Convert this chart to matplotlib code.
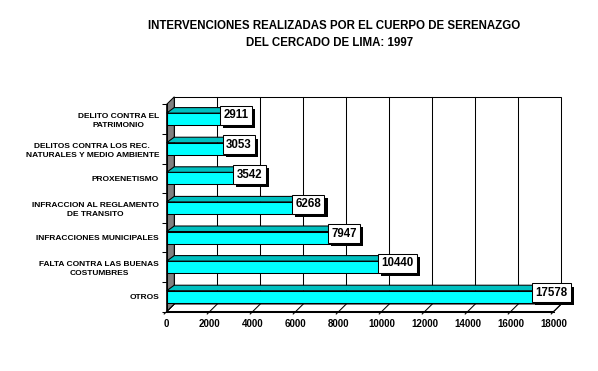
import matplotlib
matplotlib.use('Agg')
import matplotlib.pyplot as plt
import matplotlib.font_manager as fm
import matplotlib.patheffects as pe
from matplotlib.patches import Polygon, Rectangle

# data
categorias = ['DELITO CONTRA EL\nPATRIMONIO',
              'DELITOS CONTRA LOS REC.\nNATURALES Y MEDIO AMBIENTE',
              'PROXENETISMO',
              'INFRACCION AL REGLAMENTO\nDE TRANSITO',
              'INFRACCIONES MUNICIPALES',
              'FALTA CONTRA LAS BUENAS\nCOSTUMBRES',
              'OTROS']
valores = [2911, 3053, 3542, 6268, 7947, 10440, 17578]
xticks = [0, 2000, 4000, 6000, 8000, 10000, 12000, 14000, 16000, 18000]
titulo1 = 'INTERVENCIONES REALIZADAS POR EL CUERPO DE SERENAZGO'
titulo2 = 'DEL CERCADO DE LIMA: 1997'

avail = {f.name for f in fm.fontManager.ttflist}
if 'Liberation Sans Narrow' in avail:
    narrow, nsize = 'Liberation Sans Narrow', 9
else:
    narrow, nsize = 'Liberation Sans', 8.3
plain = 'Liberation Sans' if 'Liberation Sans' in avail else 'DejaVu Sans'

W, H = 598, 371
fig = plt.figure(figsize=(W / 100, H / 100), dpi=100)
# front plane of the 3d box, in pixels
x0, x1 = 166.7, 553.7
ytop, ybot = 104.3, 311.5
ax = fig.add_axes([x0 / W, (H - ybot) / H, (x1 - x0) / W, (ybot - ytop) / H])
xmax = 18000
n = len(valores)
ax.set_xlim(0, xmax)
ax.set_ylim(n - 0.5, -0.5)

pxx = xmax / (x1 - x0)          # data units per pixel, x
pxy = n / (ybot - ytop)         # data units per pixel, y
ddx, ddy = 7.6 * pxx, 7.5 * pxy  # depth of the box
bdx, bdy = 7.5 * pxx, 5.5 * pxy  # depth of bars
h = 12 * pxy                     # front face height
lw = 0.75

# back wall
ax.add_patch(Rectangle((ddx, -0.5 - ddy), xmax, n, fc='white', ec='black',
                       lw=lw, zorder=1, clip_on=False))
for t in xticks[1:-1]:
    ax.plot([t + ddx, t + ddx], [-0.5 - ddy, n - 0.5 - ddy], color='black',
            lw=lw, zorder=1.2, clip_on=False)
# floor
ax.add_patch(Polygon([(0, n - 0.5), (xmax, n - 0.5), (xmax + ddx, n - 0.5 - ddy),
                      (ddx, n - 0.5 - ddy)], closed=True, fc='white', ec='black',
                     lw=lw, zorder=1.3, clip_on=False))
for t in xticks:
    ax.plot([t + ddx, t - 2.5 * pxx], [n - 0.5 - ddy, n - 0.5 + 2.5 * pxy],
            color='black', lw=lw, zorder=1.4, clip_on=False)
# left wall
ax.add_patch(Polygon([(0, -0.5), (ddx, -0.5 - ddy), (ddx, n - 0.5 - ddy), (0, n - 0.5)],
                     closed=True, fc='#808080', ec='black', lw=lw, zorder=2,
                     clip_on=False))

# bars
pos = list(range(n))
ax.barh(pos, valores, height=h, color='#00FFFF', edgecolor='black', lw=lw, zorder=3)
for i, v in zip(pos, valores):
    top = i - h / 2
    ax.add_patch(Polygon([(0, top), (v, top), (v + bdx, top - bdy), (bdx, top - bdy)],
                         closed=True, fc='#00C0C0', ec='black', lw=lw, zorder=3,
                         clip_on=False))
    ax.add_patch(Polygon([(v, top), (v + bdx, top - bdy), (v + bdx, top + h - bdy),
                          (v, top + h)], closed=True, fc='#008080', ec='black',
                         lw=lw, zorder=3, clip_on=False))
    # value label in a box with a drop shadow
    t = ax.text(v + 310, i - 0.128, str(v), ha='center', va='center', fontsize=nsize,
                family=narrow, fontweight='bold', color='black',
                bbox=dict(boxstyle='square,pad=0.3', fc='white', ec='black', lw=lw),
                zorder=6, clip_on=False)
    t.get_bbox_patch().set_path_effects([
        pe.SimplePatchShadow(offset=(2.2, -2.2), shadow_rgbFace='black', alpha=1),
        pe.Normal()])

# axes
for s in ['top', 'right']:
    ax.spines[s].set_visible(False)
for s in ['left', 'bottom']:
    ax.spines[s].set_linewidth(lw)
    ax.spines[s].set_zorder(4)
ax.set_facecolor('none')
ax.set_yticks(pos)
ax.set_yticklabels(categorias, family=plain, fontweight='bold', fontsize=6,
                   multialignment='center', linespacing=1.45)
ax.set_yticks([k - 0.5 for k in range(n + 1)], minor=True)
ax.tick_params(axis='y', which='major', length=0, pad=5.5)
ax.tick_params(axis='y', which='minor', length=3.5, width=lw, direction='out')
ax.set_xticks(xticks)
ax.set_xticklabels([str(t) for t in xticks], family=plain, fontweight='bold',
                   fontsize=7)
ax.tick_params(axis='x', length=0, pad=5.2)

fig.text(333.8 / W, 1 - 25.7 / H, titulo1, ha='center', va='center', family=narrow,
         fontsize=nsize, fontweight='bold')
fig.text(329.3 / W, 1 - 43.3 / H, titulo2, ha='center', va='center', family=narrow,
         fontsize=nsize, fontweight='bold')

fig.savefig('out.png', dpi=100, facecolor='white')
